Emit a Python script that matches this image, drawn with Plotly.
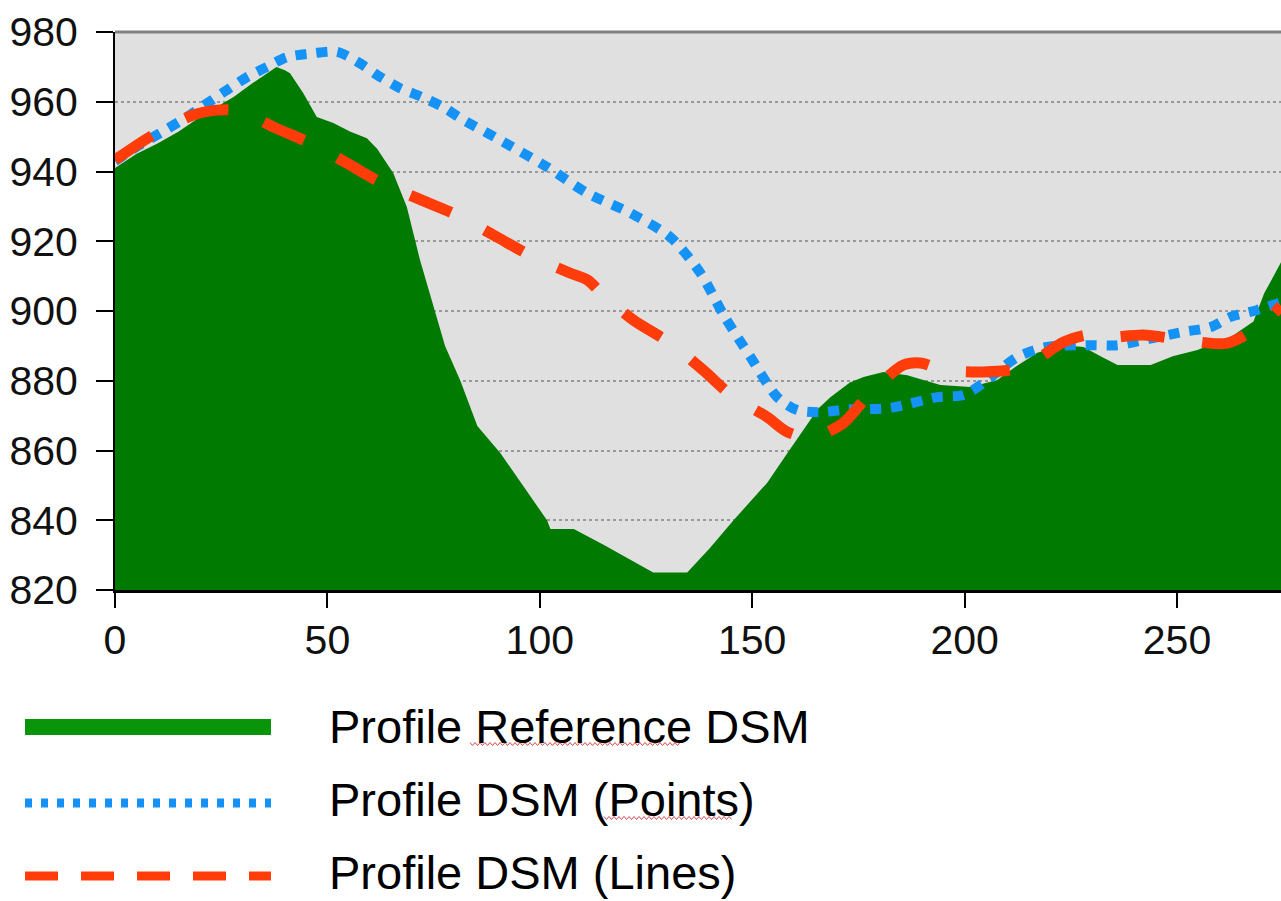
import plotly.graph_objects as go

# ---- data (distance along profile vs. elevation) ----
ref_x = [0, 5, 10, 15, 20, 24, 28, 32, 36, 38, 40, 41.2, 44.3, 47.5, 51.4, 55.3, 59.3, 61.7,
         65.5, 68.7, 71.8, 74.5, 77.7, 81.3, 85.3, 90.7, 96, 101.7, 102.5, 108, 115, 121,
         126.7, 134.7, 140, 145.6, 153.5, 158.3, 162, 165.5, 168.4, 173, 176.2, 180.9, 186.5,
         194.3, 201.4, 207.7, 212, 217.1, 223.3, 228, 232, 236, 243.8, 249, 254.8, 262.6,
         268, 270.5, 274.5]
ref_y = [941, 945, 948, 951.5, 955.6, 958.5, 961.4, 965, 968.5, 970, 969, 968.2, 962.5, 955.6,
         953.9, 951.5, 949.5, 946.5, 939.6, 929.8, 914.6, 903, 890, 880, 867, 859.3, 850, 840,
         837.5, 837.5, 833, 829, 825, 825, 832, 840, 850.7, 859.3, 866, 872, 875.3, 879.5,
         881.1, 882.5, 881.6, 878.8, 878.2, 880.2, 884, 888, 890.2, 889.7, 887, 884.5, 884.5,
         887, 888.8, 892.5, 897, 905, 914]

pts_x = [0, 5, 10.6, 16.9, 21, 26.4, 31, 35.8, 40.5, 46.6, 52.3, 57.7, 61.7, 67.1, 72, 77.2,
         81.3, 91.4, 101.7, 111.2, 121.3, 130.7, 137.8, 143.2, 149.6, 155.9, 160.6, 166,
         172.4, 182.5, 193.6, 199.7, 204.4, 212.4, 219.5, 229.6, 236, 242.1, 251.5, 257.9,
         262.6, 268.9, 274.5]
pts_y = [943, 947, 951, 955.6, 959, 963.4, 967, 970, 972.8, 973.9, 974.3, 971, 967.7, 963.9,
         961.5, 958.5, 955.3, 948.5, 941.3, 933.8, 928.1, 921.2, 910.9, 899, 886.8, 875.3,
         871.6, 871, 871.8, 872.2, 875.3, 875.9, 879.3, 886.8, 889.7, 890.2, 890.2, 891.7,
         894, 895.4, 898.3, 900.3, 902.5]

lin_x = [0, 9, 18.4, 24, 27.8, 32, 37.2, 45.9, 54.6, 62.4, 71.8, 80.5, 89.9, 98.4, 107.1,
         111.2, 114.9, 122, 130.7, 138.5, 145.6, 153.5, 158, 162, 166, 171.5, 177.8, 185.6,
         189.6, 195, 204.4, 213.8, 223.3, 228.9, 232.7, 242.1, 251.5, 261.9, 270.4, 274.5]
lin_y = [943.3, 950.5, 956.2, 957.6, 957.6, 956, 952.8, 948.2, 942.4, 937, 932, 927.5, 921.2,
         915.5, 910.9, 908.9, 904.6, 897.4, 890.8, 883, 875.3, 869.6, 865.5, 864, 864.5, 867.9,
         876.5, 884.5, 885.1, 883.1, 882.5, 883.9, 891.1, 893.1, 892.3, 893.1, 891.7, 890.8,
         896.6, 901.5]

x_ticks = [0, 50, 100, 150, 200, 250]
y_ticks = [820, 840, 860, 880, 900, 920, 940, 960, 980]
names = ["Profile Reference DSM", "Profile DSM (Points)", "Profile DSM (Lines)"]

GREEN = "#007a00"
BLUE = "#1592f5"
RED = "#ff3c0a"

W, H = 1281, 901
L, R, T, B = 115, 0, 32, 311
PW, PH = W - L - R, H - T - B


def px2p(px):
    return (px - L) / PW


def py2p(py):
    return (H - B - py) / PH


fig = go.Figure()
fig.add_trace(go.Scatter(x=ref_x, y=ref_y, mode="lines", fill="tozeroy",
                         fillcolor=GREEN, line=dict(color=GREEN, width=0),
                         name=names[0], showlegend=False))
fig.add_trace(go.Scatter(x=pts_x, y=pts_y, mode="lines",
                         line=dict(color=BLUE, width=10, dash="11px,10px", shape="spline", smoothing=0.8),
                         name=names[1], showlegend=False))
fig.add_trace(go.Scatter(x=lin_x, y=lin_y, mode="lines",
                         line=dict(color=RED, width=11, dash="44px,38px", shape="spline", smoothing=0.8),
                         name=names[2], showlegend=False))

tickfont = dict(family="Liberation Sans, Arial, sans-serif", size=41, color="#111111")
fig.update_xaxes(range=[0, PW / 4.248], tickvals=x_ticks, ticks="outside", ticklen=15,
                 tickwidth=2, tickcolor="black", showline=True, linecolor="black",
                 linewidth=3, showgrid=False, zeroline=False, tickfont=tickfont,
                 ticklabelstandoff=-3, automargin=False)
fig.update_yaxes(range=[820, 980], tickvals=y_ticks, ticks="outside", ticklen=17,
                 tickwidth=2, tickcolor="black", showline=True, linecolor="black",
                 linewidth=2, showgrid=True, gridcolor="#999999", gridwidth=2,
                 griddash="3px,3px", zeroline=False, tickfont=tickfont,
                 ticklabelstandoff=10, automargin=False)

shapes = [dict(type="line", xref="paper", yref="paper", x0=0, x1=1, y0=1, y1=1,
               line=dict(color="#808080", width=3))]
# legend samples
leg_x0, leg_x1 = px2p(25), px2p(271)
leg = [(727, "#0a940a", 16, "solid"), (803, BLUE, 9, "7px,9px"), (876, RED, 9, "33px,23px")]
for py, col, wd, ds in leg:
    shapes.append(dict(type="line", xref="paper", yref="paper", x0=leg_x0, x1=leg_x1,
                       y0=py2p(py), y1=py2p(py), line=dict(color=col, width=wd, dash=ds)))


# spell-check squiggles under two words
def squiggle(x0, x1, y):
    pts = []
    xx = x0
    k = 0
    while xx <= x1:
        yy = y + (1.5 if k % 2 else -1.5)
        pts.append(f"{px2p(xx):.5f},{py2p(yy):.5f}")
        xx += 2.5
        k += 1
    return "M " + " L ".join(pts)


for sx0, sx1, sy in [(470, 682, 744), (604, 732, 818)]:
    shapes.append(dict(type="path", xref="paper", yref="paper", path=squiggle(sx0, sx1, sy),
                       line=dict(color="#d24a4a", width=1)))

annotations = []
for py, name in zip([726, 799, 872], names):
    annotations.append(dict(x=px2p(327), y=py2p(py), xref="paper", yref="paper",
                            text=name, showarrow=False, xanchor="left", yanchor="middle",
                            font=dict(family="Liberation Sans, Arial, sans-serif", size=47,
                                      color="black")))

fig.update_layout(width=W, height=H, margin=dict(l=L, r=R, t=T, b=B, autoexpand=False),
                  plot_bgcolor="#e0e0e0", paper_bgcolor="white",
                  shapes=shapes, annotations=annotations, showlegend=False)

fig.write_html("out.html", config={"displayModeBar": False},
               post_script="document.body.style.margin='0px';document.body.style.overflow='hidden';")
